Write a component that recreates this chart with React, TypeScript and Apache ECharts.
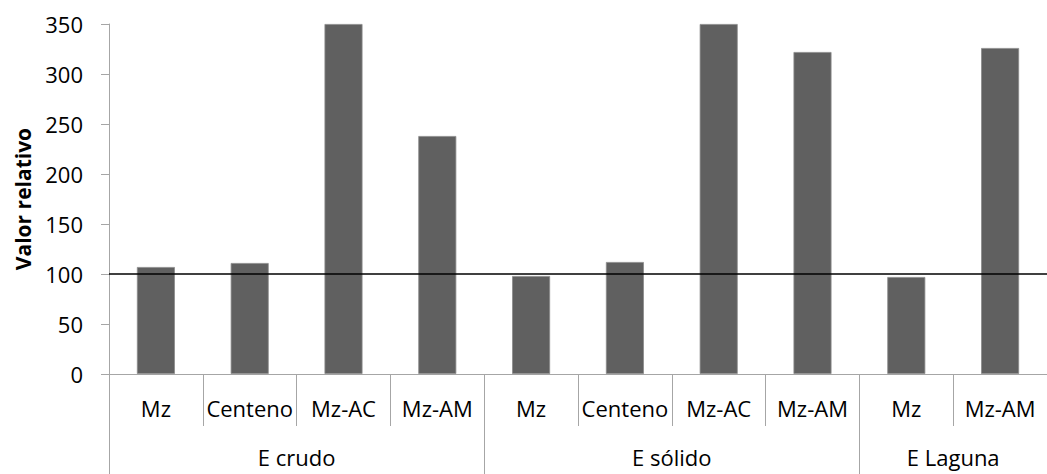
import React, { useEffect, useRef } from "react";
import * as echarts from "echarts";

const categories = ["Mz", "Centeno", "Mz-AC", "Mz-AM", "Mz", "Centeno", "Mz-AC", "Mz-AM", "Mz", "Mz-AM"];
const values = [107, 111, 350, 238, 98, 112, 350, 322, 97, 326];
const groupNames = ["E crudo", "E sólido", "E Laguna"];
const groupSizes = [4, 4, 2];
const yMin = 0;
const yMax = 350;
const yInterval = 50;
const referenceValue = 100;
const axisTitle = "Valor relativo";

const FONT = "'Open Sans', 'DejaVu Sans', sans-serif";
const AXIS_GRAY = "#a6a6a6";

export default function App() {
  const ref = useRef<HTMLDivElement>(null);

  useEffect(() => {
    document.body.style.margin = "0";
    if (!ref.current) return;
    const chart = echarts.init(ref.current, undefined, { renderer: "svg" });

    const boundaries: number[] = [0];
    groupSizes.forEach((s) => boundaries.push(boundaries[boundaries.length - 1] + s));
    const centers = groupSizes.map((s, i) => boundaries[i] + s / 2);

    chart.setOption({
      animation: false,
      grid: { left: 109, right: 0, top: 24, bottom: 100, containLabel: false },
      xAxis: [
        {
          type: "category",
          data: categories,
          position: "bottom",
          axisLine: { show: true, lineStyle: { color: AXIS_GRAY, width: 1 } },
          axisTick: { show: true, interval: 0, length: 52, lineStyle: { color: AXIS_GRAY } },
          axisLabel: { interval: 0, margin: 23, fontFamily: FONT, fontSize: 22, color: "#000" },
          splitLine: { show: false },
        },
        {
          type: "value",
          min: 0,
          max: categories.length,
          position: "bottom",
          axisLine: { show: false },
          axisTick: { show: true, length: 100, customValues: boundaries, lineStyle: { color: AXIS_GRAY } },
          axisLabel: {
            show: true,
            customValues: centers,
            margin: 72,
            fontFamily: FONT,
            fontSize: 22,
            color: "#000",
            formatter: (v: number) => {
              const i = centers.findIndex((c) => Math.abs(c - v) < 1e-6);
              return i >= 0 ? groupNames[i] : "";
            },
          },
          splitLine: { show: false },
        },
      ],
      yAxis: {
        type: "value",
        min: yMin,
        max: yMax,
        interval: yInterval,
        name: axisTitle,
        nameLocation: "middle",
        nameGap: 76,
        nameTextStyle: { fontFamily: FONT, fontSize: 21, fontWeight: "bold", color: "#000" },
        axisLine: { show: true, lineStyle: { color: AXIS_GRAY, width: 1 } },
        axisTick: { show: true, length: 8, lineStyle: { color: AXIS_GRAY } },
        axisLabel: { margin: 26, fontFamily: FONT, fontSize: 22, color: "#000" },
        splitLine: { show: false },
      },
      series: [
        {
          type: "bar",
          data: values,
          xAxisIndex: 0,
          yAxisIndex: 0,
          barWidth: 38,
          itemStyle: { color: "#606060", borderColor: "#8a8a8a", borderWidth: 0.8 },
          markLine: {
            silent: true,
            symbol: ["none", "none"],
            label: { show: false },
            lineStyle: { color: "#000", width: 1.5, type: "solid" },
            data: [{ yAxis: referenceValue }],
          },
        },
      ],
    });

    return () => chart.dispose();
  }, []);

  return <div ref={ref} style={{ width: 1047, height: 474 }} />;
}
